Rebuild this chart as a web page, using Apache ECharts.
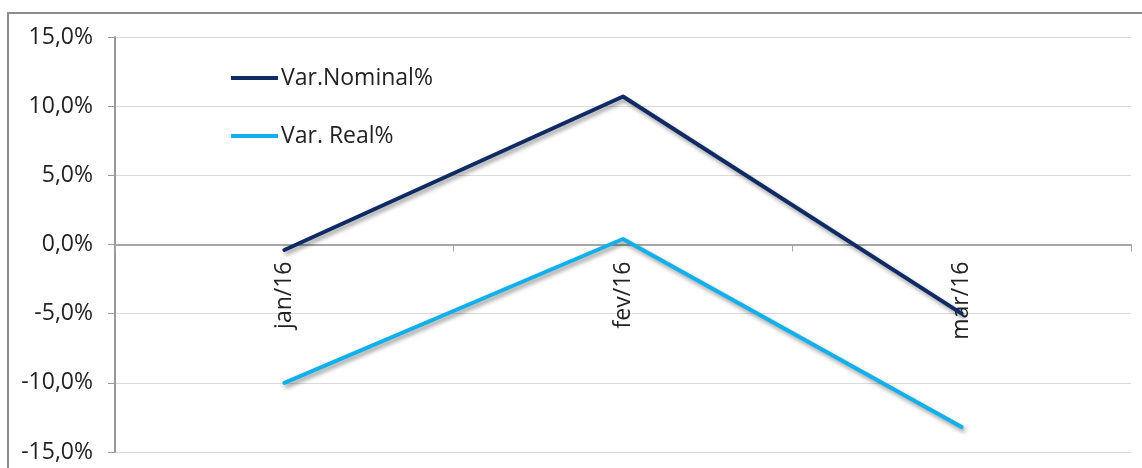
<!DOCTYPE html>
<html>
<head>
<meta charset="utf-8">
<script src="https://cdn.jsdelivr.net/npm/echarts@6/dist/echarts.min.js"></script>
<style>
  html, body { margin: 0; padding: 0; background: #ffffff; }
  #chart { width: 1142px; height: 468px; }
</style>
</head>
<body>
<div id="chart"></div>
<script>
// Monthly variation, nominal vs real (%)
const months = ['jan/16', 'fev/16', 'mar/16'];
const nominalPct = [-0.4, 10.7, -5.0];
const realPct = [-10.0, 0.4, -13.2];
const seriesNames = ['Var.Nominal%', 'Var. Real%'];

const FONT = '"Open Sans", "Noto Sans", sans-serif';
const pct = v => v.toFixed(1).replace('.', ',') + '%';

const W = 1142, H = 468;
const gridTop = 37, gridBottom = 16;
const yMin = -15, yMax = 15;
// lift the category axis from the bottom edge up to the zero line
const zeroOffset = -(H - gridTop - gridBottom) * (0 - yMin) / (yMax - yMin);

const chart = echarts.init(document.getElementById('chart'), null, { renderer: 'canvas' });

const lineShadow = {
  shadowColor: 'rgba(0,0,0,0.4)',
  shadowBlur: 4,
  shadowOffsetX: 2,
  shadowOffsetY: 3
};

chart.setOption({
  animation: false,
  backgroundColor: '#ffffff',
  graphic: [{
    type: 'rect',
    shape: { x: 8, y: 13, width: 1200, height: 520 },
    style: { fill: 'none', stroke: '#8c8c8c', lineWidth: 2 },
    silent: true,
    z: -1
  }],
  grid: { left: 115, right: 11, top: gridTop, bottom: gridBottom, containLabel: false, outerBoundsMode: 'none' },
  legend: {
    orient: 'vertical',
    left: 226,
    top: 58,
    icon: 'rect',
    itemWidth: 47,
    itemHeight: 4,
    itemGap: 28,
    itemStyle: { borderWidth: 0 },
    textStyle: { fontFamily: FONT, fontSize: 23, color: '#222', lineHeight: 30, padding: [0, 0, 0, -2] },
    data: seriesNames
  },
  xAxis: {
    type: 'category',
    data: months,
    boundaryGap: true,
    position: 'bottom',
    offset: zeroOffset,
    axisLine: { onZero: false, lineStyle: { color: '#a6a6a6', width: 2 } },
    axisTick: { show: true, length: 7, lineStyle: { color: '#a6a6a6', width: 1 } },
    axisLabel: {
      rotate: 90,
      margin: 17,
      interval: 0,
      fontFamily: FONT,
      fontSize: 23,
      color: '#222'
    },
    splitLine: { show: false }
  },
  yAxis: {
    type: 'value',
    min: yMin,
    max: yMax,
    interval: 5,
    axisLine: { show: true, lineStyle: { color: '#9a9a9a', width: 2 } },
    axisTick: { show: true, length: 7, lineStyle: { color: '#9a9a9a', width: 1 } },
    axisLabel: {
      formatter: pct,
      margin: 22,
      fontFamily: FONT,
      fontSize: 23,
      color: '#222'
    },
    splitLine: { show: true, lineStyle: { color: '#d9d9d9', width: 1 } }
  },
  series: [
    {
      name: seriesNames[0],
      type: 'line',
      data: nominalPct,
      showSymbol: false,
      symbol: 'none',
      color: '#102a63',
      lineStyle: Object.assign({ color: '#102a63', width: 4, cap: 'round', join: 'round' }, lineShadow),
      z: 3
    },
    {
      name: seriesNames[1],
      type: 'line',
      data: realPct,
      showSymbol: false,
      symbol: 'none',
      color: '#12b0ea',
      lineStyle: Object.assign({ color: '#12b0ea', width: 4, cap: 'round', join: 'round' }, lineShadow),
      z: 3
    }
  ]
});
</script>
</body>
</html>
